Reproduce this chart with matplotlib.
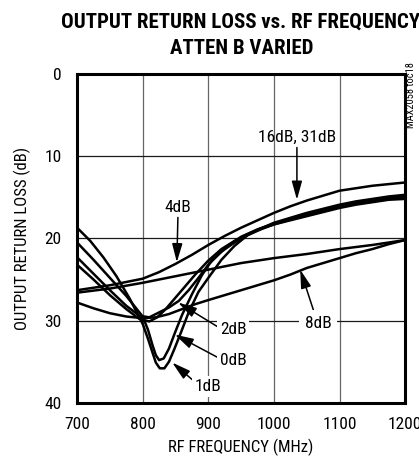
import matplotlib
matplotlib.use("Agg")
import matplotlib.pyplot as plt

plt.rcParams['font.family'] = ['Roboto Condensed', 'Saira Condensed', 'DejaVu Sans']

# curves (freq MHz, return loss dB)
f_1db = [700, 720, 740, 760, 780, 800, 808, 815, 820, 826, 833, 840, 848, 858, 870, 885, 900,
         920, 940, 960, 980, 1000, 1025, 1050, 1075, 1100, 1125, 1150, 1175, 1200]
rl_1db = [18.7, 20.3, 22.3, 24.6, 27.3, 30.4, 32.2, 33.9, 35.1, 35.8, 35.8, 35.0, 33.5, 31.5, 29.0, 26.5, 24.8,
          22.6, 20.9, 19.6, 18.8, 18.3, 17.8, 17.3, 16.8, 16.3, 15.9, 15.6, 15.3, 15.2]

f_0db = [700, 725, 750, 775, 800, 808, 815, 820, 825, 832, 840, 849, 860, 875, 890, 905,
         930, 950, 975, 1000, 1025, 1050, 1075, 1100, 1125, 1150, 1175, 1200]
rl_0db = [20.5, 22.6, 24.8, 27.0, 29.5, 31.1, 33.0, 34.2, 34.8, 34.6, 33.4, 31.5, 29.3, 26.8, 24.5, 22.7,
          20.9, 19.8, 18.9, 18.2, 17.6, 17.1, 16.6, 16.1, 15.7, 15.4, 15.1, 14.9]

f_2db = [700, 725, 750, 775, 795, 810, 825, 840, 855, 870, 885, 900, 920, 940, 960, 980,
         1000, 1025, 1050, 1075, 1100, 1125, 1150, 1175, 1200]
rl_2db = [22.3, 24.3, 26.3, 28.2, 29.4, 29.6, 29.0, 28.4, 27.6, 26.3, 24.8, 23.2, 21.6, 20.5, 19.6, 18.9,
          18.3, 17.7, 17.2, 16.7, 16.2, 15.8, 15.5, 15.2, 15.0]

f_16db = [700, 725, 750, 775, 795, 810, 822, 835, 850, 865, 880, 900, 920, 940, 960, 980,
          1000, 1025, 1050, 1075, 1100, 1125, 1150, 1175, 1200]
rl_16db = [23.2, 25.0, 26.9, 28.6, 29.8, 30.1, 29.6, 28.6, 27.2, 25.8, 24.4, 22.7, 21.3, 20.3, 19.5, 18.8,
           18.1, 17.5, 16.9, 16.4, 15.9, 15.5, 15.2, 14.9, 14.7]

f_4db = [700, 750, 800, 825, 850, 875, 900, 925, 950, 975, 1000, 1025, 1050, 1075, 1100,
         1125, 1150, 1175, 1200]
rl_4db = [26.3, 25.7, 24.9, 24.1, 23.1, 22.0, 20.8, 19.7, 18.7, 17.8, 16.9, 16.1, 15.4, 14.8, 14.2,
          13.9, 13.6, 13.4, 13.2]

f_31db = [700, 750, 800, 850, 900, 950, 1000, 1050, 1100, 1150, 1200]
rl_31db = [26.6, 26.1, 25.4, 24.6, 23.8, 23.0, 22.4, 21.9, 21.3, 20.8, 20.2]

f_8db = [700, 725, 750, 775, 800, 820, 840, 860, 880, 900, 925, 950, 975, 1000, 1025,
         1050, 1075, 1100, 1125, 1150, 1175, 1200]
rl_8db = [27.8, 28.5, 29.1, 29.5, 29.7, 29.6, 29.2, 28.6, 28.0, 27.5, 26.9, 26.3, 25.7, 25.1, 24.4,
          23.6, 23.0, 22.4, 21.8, 21.3, 20.7, 20.2]

x_ticks = [700, 800, 900, 1000, 1100, 1200]
y_ticks = [0, 10, 20, 30, 40]

fig = plt.figure(figsize=(4.19, 4.62), dpi=100)
ax = fig.add_axes([0.184, 0.128, 0.783, 0.712])

curves = [(f_1db, rl_1db), (f_0db, rl_0db), (f_2db, rl_2db), (f_16db, rl_16db),
          (f_4db, rl_4db), (f_31db, rl_31db), (f_8db, rl_8db)]
for fx, ry in curves:
    ax.plot(fx, ry, color='black', lw=1.8, solid_joinstyle='round', zorder=3)

ax.set_xlim(700, 1200)
ax.set_ylim(40, 0)
ax.set_xticks(x_ticks)
ax.set_yticks(y_ticks)
ax.tick_params(length=0, labelsize=12.5)
ax.tick_params(axis='y', pad=11)
ax.tick_params(axis='x', pad=10)
ax.xaxis.grid(True, color='0.4', lw=0.9)
ax.yaxis.grid(True, color='0.1', lw=0.9)
ax.set_axisbelow(True)
for s in ax.spines.values():
    s.set_linewidth(2.2)

ax.set_xlabel('RF FREQUENCY (MHz)', fontsize=12, labelpad=5)
ax.set_ylabel('OUTPUT RETURN LOSS (dB)', fontsize=12, labelpad=10)

fig.text(0.575, 0.952, 'OUTPUT RETURN LOSS vs. RF FREQUENCY', ha='center', va='center',
         fontsize=15, fontweight=900)
fig.text(0.578, 0.896, 'ATTEN B VARIED', ha='center', va='center',
         fontsize=15, fontweight=900)
fig.text(0.981, 0.866, 'MAX2058 toc18', rotation=90, ha='center', va='top', fontsize=7.5)

arrow = dict(arrowstyle='-|>,head_length=0.9,head_width=0.25', color='black', lw=1.1,
             shrinkA=0, shrinkB=0)
box = dict(facecolor='white', edgecolor='none', pad=2)

ax.annotate('4dB', xy=(852, 22.9), xytext=(854, 16.2), ha='center', va='center',
            fontsize=12.5, arrowprops=arrow, zorder=5)
ax.annotate('16dB, 31dB', xy=(1035, 15.3), xytext=(1035, 7.7), ha='center', va='center',
            fontsize=12.5, arrowprops=arrow, zorder=5)
ax.annotate('2dB', xy=(854, 27.8), xytext=(938, 31.1), ha='center', va='center',
            fontsize=12.5, arrowprops=dict(arrow, relpos=(0, 0.6)), bbox=box, zorder=5)
ax.annotate('0dB', xy=(849, 31.7), xytext=(938, 34.8), ha='center', va='center',
            fontsize=12.5, arrowprops=dict(arrow, relpos=(0, 0.6)), bbox=box, zorder=5)
ax.annotate('1dB', xy=(845, 35.1), xytext=(900, 38.0), ha='center', va='center',
            fontsize=12.5, arrowprops=dict(arrow, relpos=(0, 0.8)), bbox=box, zorder=5)
ax.annotate('8dB', xy=(1040, 23.8), xytext=(1067, 30.3), ha='center', va='center',
            fontsize=12.5, arrowprops=dict(arrow, relpos=(0.4, 1)), bbox=dict(box, pad=4), zorder=5)

fig.savefig('out.png', dpi=100)
